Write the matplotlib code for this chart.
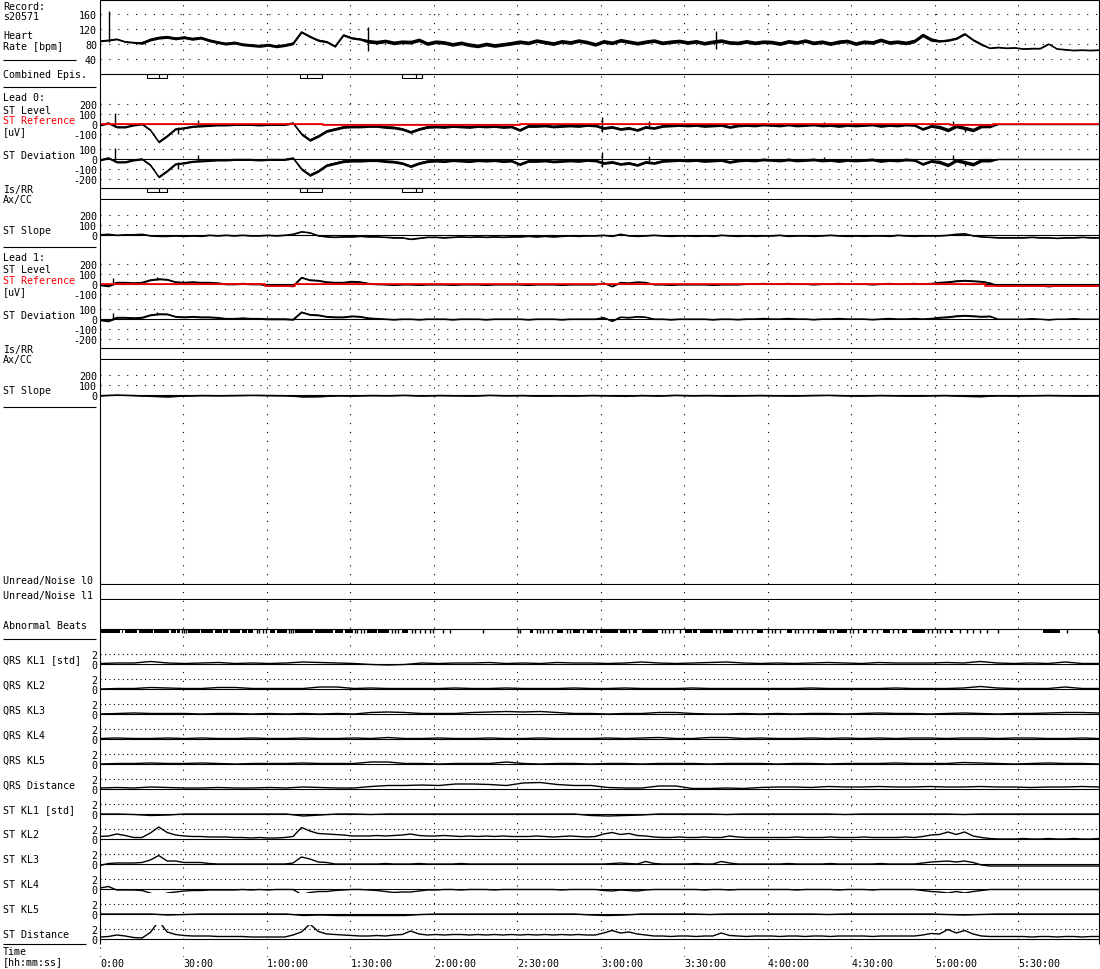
import numpy as np
import matplotlib
matplotlib.use('Agg')
import matplotlib.pyplot as plt
from matplotlib.patches import Rectangle

W, H = 1100, 970
X0, X1 = 100, 1099
T_END = 359.0          # minutes covered by the plot area

# ---------------- data (time in minutes) ----------------
t3 = np.linspace(0, T_END, 120)
t6 = np.linspace(0, T_END, 60)

hr = [88, 90, 93, 86, 84, 83, 92, 97, 99, 95,
      98, 94, 97, 90, 85, 81, 84, 79, 77, 75,
      78, 74, 77, 82, 112, 100, 90, 86, 74, 104,
      96, 93, 87, 85, 88, 83, 86, 85, 91, 81,
      86, 84, 79, 83, 78, 75, 80, 76, 79, 82,
      86, 83, 89, 85, 81, 87, 84, 89, 85, 79,
      87, 83, 90, 86, 82, 86, 89, 83, 86, 88,
      84, 87, 82, 86, 89, 84, 83, 87, 83, 86,
      85, 81, 87, 84, 89, 83, 86, 81, 86, 88,
      81, 86, 84, 91, 84, 86, 83, 88, 104, 92,
      88, 90, 95, 107, 91, 79, 69, 71, 69, 70,
      67, 68, 68, 80, 67, 65, 63, 64, 63, 64]
hr_spk_t = [3.2, 96.3, 221.5]
hr_spk_lo = [86, 62, 68]
hr_spk_hi = [168, 125, 115]
# beat-to-beat scatter around the trend: (from, to, half width)
hr_noise = [(0, 14, 2), (14, 70, 4), (70, 95, 3), (95, 300, 5), (300, 318, 3), (318, 360, 1.5)]

ep_start = [16.9, 71.9, 108.5]
ep_end = [24.1, 79.8, 115.7]
ep_mid = [21.2, 74.4, 113.5]

# lead 0
lvl0 = [-10, 10, -30, -30, -10, 0, -60, -180, -120, -50,
        -40, -25, -20, -15, -10, -10, -5, -5, -5, -10,
        -5, -5, -5, 10, -100, -160, -120, -70, -50, -30,
        -25, -25, -20, -20, -30, -35, -50, -80, -50, -30,
        -25, -30, -20, -25, -30, -20, -25, -20, -30, -25,
        -60, -20, -20, -15, -25, -20, -15, -20, -10, -15,
        -40, -30, -50, -40, -60, -30, -40, -20, -15, -10,
        -15, -10, -20, -15, -10, -30, -15, -10, -15, -5,
        -10, -15, -5, -15, -10, -5, -15, -10, -20, -10,
        -15, -10, -5, -20, -10, -15, -5, -10, -50, -20,
        -30, -60, -20, -40, -60, -20, -20, -5, -5, -5,
        -5, -5, -5, -5, -5, -5, -5, -5, -5, -5]
lvl0_noise = [(0, 70, 10), (70, 300, 14), (300, 320, 18), (320, 360, 0)]
lvl0_spk_t = [5.4, 28.0, 35.2, 180.4, 197.3, 260.0, 306.5, 310.8]
lvl0_spk_lo = [-30, -100, -20, -80, -20, -15, -20, -80]
lvl0_spk_hi = [110, -30, 40, 70, 30, 20, 30, -30]
ref0_t = [0, 80.1, 150.9, 305.4, 320.9]
ref0_v = [0, -8, 0, -8, 0]
sl0 = [0, 5, -5, 0, 0, 5, -10, -15, -15, -10,
       -15, -10, -15, -5, -10, -5, -10, -5, -10, -10,
       -5, -10, -5, 5, 30, 20, -10, -20, -25, -20,
       -20, -15, -20, -20, -25, -30, -30, -45, -35, -25,
       -25, -30, -25, -20, -25, -20, -25, -20, -25, -20,
       -20, -15, -20, -15, -20, -15, -10, -15, -10, -10,
       -5, -15, 5, -10, -15, -10, -5, -10, -15, -10,
       -10, -15, -10, -15, -5, -10, -15, -10, -15, -10,
       -10, -5, -15, -10, -10, -15, -10, -5, -10, -15,
       -10, -15, -10, -10, -15, -5, -10, -15, -10, -10,
       -10, -5, 5, 10, -10, -20, -25, -30, -30, -30,
       -30, -25, -30, -30, -35, -30, -30, -25, -30, -30]
sl0_noise = [(0, 360, 5)]

# lead 1
lvl1 = [-10, -20, 15, 15, 10, 15, 40, 50, 45, 20,
        15, 20, 15, 15, 10, 0, 0, 5, 0, 0,
        -15, -15, -15, -20, 65, 40, 35, 20, 15, 15,
        25, 20, 5, 0, -5, -10, -5, -5, -10, -5,
        -5, -5, -10, -5, -5, -5, -10, -5, -5, -5,
        -5, -10, -5, -5, -5, -10, -5, -5, -5, -5,
        10, -25, 15, 10, 20, 15, -5, -5, -10, -5,
        -5, -5, -5, -10, -5, -5, -5, 0, 0, 5,
        0, 0, 5, 0, 0, -5, 0, 0, 5, 0,
        0, 0, -5, 0, 5, 0, 0, 5, 0, 5,
        15, 20, 30, 35, 30, 25, 10, -20, -20, -20,
        -20, -15, -20, -25, -20, -20, -15, -20, -20, -20]
lvl1_noise = [(0, 100, 8), (100, 300, 5), (300, 320, 8), (320, 360, 3)]
lvl1_spk_t = [4.7, 20.5]
lvl1_spk_lo = [-10, 40]
lvl1_spk_hi = [60, 70]
ref1_t = [0, 23.4, 59.3, 70.1, 227.4, 318.0]
ref1_v = [0, -4, -15, -4, 0, -18]
sl1 = [-10, -3, -8, -15, -20, -12, -8, -10, -8, -6,
       -8, -10, -20, -18, -10, -12, -8, -10, -6, -12,
       -8, -10, -12, -6, -10, -8, -14, -10, -12, -8,
       -10, -15, -8, -12, -6, -10, -8, -12, -10, -8,
       -10, -12, -8, -6, -10, -12, -8, -10, -14, -10,
       -8, -15, -18, -10, -12, -10, -8, -10, -12, -10]
sl1_noise = [(0, 360, 4)]

# abnormal beats: runs of beats and single beats
beat_start = [0, 7.8, 9.0, 14.0, 19.5, 25.5, 27.8, 31.7, 36.3, 41.3, 44.3, 46.7,
              50.9, 53.3, 61.1, 63.5, 70.1, 77.2, 84.4, 88.0, 95.8, 100.0, 108.4,
              154.5, 164.1, 170.1, 174.9,
              179.7, 186.9, 191.7, 194.7, 210.2, 213.2, 215.6, 224.0, 236.0, 246.8,
              257.5, 264.7, 274.3, 281.5, 288.1, 291.7, 305.4, 339.0]
beat_end = [7.2, 8.4, 13.4, 18.9, 24.9, 27.3, 28.7, 35.9, 40.7, 43.7, 46.1, 50.3,
            52.7, 55.1, 62.9, 67.1, 76.6, 83.8, 87.4, 90.8, 99.4, 104.0, 110.8,
            155.7, 166.5, 172.5, 177.2,
            186.3, 189.3, 192.9, 200.7, 212.6, 214.4, 220.4, 227.6, 238.4, 248.6,
            261.1, 268.3, 275.5, 283.9, 289.9, 296.5, 306.6, 345.0]
beat_single = [29.3, 30.2, 30.9, 56.3, 57.2, 58.4, 59.5, 67.8, 68.6, 69.5,
               91.6, 92.5, 93.8, 94.9, 104.8, 106.0, 107.2, 112.0, 113.2, 115.0,
               116.8, 118.6, 119.8, 123.4, 125.7, 137.7, 150.3, 151.1, 156.9, 158.1,
               159.3, 161.1, 162.3, 167.7, 168.9, 173.7, 178.4,
               190.2, 201.9, 203.1, 204.3, 206.0, 208.4, 221.4, 222.8, 228.8, 230.6,
               232.4, 234.2, 240.2, 241.4, 242.6, 244.4, 249.8, 251.0, 252.8, 254.6,
               256.3, 262.3, 263.5, 269.5, 270.7, 272.5, 277.3, 279.1, 285.1, 286.9,
               297.7, 298.9, 300.7, 301.9, 303.7, 309.0, 311.4, 313.8, 316.2, 318.6,
               322.8, 347.4, 358.7]

# Karhunen-Loeve coefficients [std]
qrs_kl1 = [0.1, 0.2, 0.2, 0.5, 0.2, 0.1, 0.2, 0.3, 0.1, 0.2,
           0.1, 0.2, 0.4, 0.3, 0.2, 0.1, -0.1, -0.2, -0.1, 0.2,
           0.1, 0.2, 0.2, 0.3, 0.1, 0.2, 0.1, 0.3, 0.2, 0.2,
           0.1, 0.2, 0.4, 0.2, 0.1, 0.2, 0.3, 0.4, 0.2, 0.1,
           0.2, 0.1, 0.2, 0.3, 0.2, 0.1, 0.3, 0.2, 0.2, 0.2,
           0.3, 0.2, 0.5, 0.2, 0.1, 0.2, 0.1, 0.4, 0.1, 0.1]
qrs_kl2 = [0.0, 0.1, 0.1, 0.3, 0.2, 0.1, 0.1, 0.3, 0.3, 0.1,
           0.1, 0.1, 0.1, 0.4, 0.4, 0.1, 0.2, 0.1, 0.1, 0.1,
           0.1, 0.2, 0.1, 0.1, 0.2, 0.1, 0.1, 0.1, 0.2, 0.1,
           0.1, 0.2, 0.1, 0.1, 0.1, 0.2, 0.1, 0.1, 0.1, 0.1,
           0.1, 0.1, 0.2, 0.1, 0.1, 0.1, 0.1, 0.2, 0.1, 0.1,
           0.1, 0.2, 0.5, 0.2, 0.1, 0.1, 0.1, 0.4, 0.1, 0.1]
qrs_kl3 = [0.0, 0.1, 0.2, 0.1, 0.1, 0.1, 0.0, 0.1, 0.1, 0.0,
           0.1, 0.0, 0.1, 0.0, 0.1, 0.0, 0.3, 0.4, 0.3, 0.1,
           0.1, 0.1, 0.3, 0.4, 0.5, 0.4, 0.5, 0.3, 0.1, 0.1,
           0.0, 0.1, 0.1, 0.3, 0.3, 0.1, 0.0, 0.0, 0.1, 0.0,
           0.1, 0.0, 0.1, 0.1, 0.0, 0.1, 0.2, 0.1, 0.1, 0.0,
           0.1, 0.2, 0.1, 0.0, 0.1, 0.1, 0.2, 0.3, 0.3, 0.2]
qrs_kl4 = [0.1, 0.2, 0.1, 0.1, 0.2, 0.1, 0.2, 0.1, 0.1, 0.2,
           0.1, 0.1, 0.2, 0.1, 0.1, 0.2, 0.1, 0.3, 0.1, 0.1,
           0.2, 0.1, 0.1, 0.2, 0.1, 0.1, 0.2, 0.1, 0.1, 0.1,
           0.2, 0.1, 0.2, 0.3, 0.1, 0.1, 0.3, 0.3, 0.1, 0.2,
           0.1, 0.1, 0.2, 0.1, 0.2, 0.1, 0.2, 0.1, 0.2, 0.2,
           0.1, 0.2, 0.2, 0.1, 0.2, 0.2, 0.1, 0.1, 0.2, 0.1]
qrs_kl5 = [0.0, 0.1, 0.1, 0.2, 0.1, 0.1, 0.2, 0.1, 0.0, 0.1,
           0.1, 0.1, 0.2, 0.1, 0.1, 0.1, 0.4, 0.4, 0.1, 0.1,
           0.0, 0.1, 0.1, 0.1, 0.4, 0.1, 0.0, 0.1, 0.1, 0.0,
           0.1, 0.1, 0.0, 0.1, 0.1, 0.1, 0.0, 0.1, 0.1, 0.1,
           0.0, 0.1, 0.1, 0.0, 0.1, 0.1, 0.1, 0.2, 0.1, 0.1,
           0.1, 0.3, 0.2, 0.1, 0.0, 0.1, 0.2, 0.1, 0.1, 0.0]
qrs_dist = [0.2, 0.3, 0.2, 0.4, 0.3, 0.2, 0.2, 0.3, 0.2, 0.2,
            0.3, 0.2, 0.4, 0.3, 0.2, 0.2, 0.5, 0.7, 0.7, 0.8,
            0.7, 1.0, 1.0, 0.9, 0.7, 1.2, 1.3, 0.9, 0.7, 0.7,
            0.3, 0.2, 0.2, 0.6, 0.6, 0.1, 0.1, 0.2, 0.1, 0.3,
            0.4, 0.4, 0.3, 0.5, 0.4, 0.4, 0.5, 0.4, 0.4, 0.5,
            0.4, 0.4, 0.5, 0.4, 0.4, 0.3, 0.4, 0.4, 0.5, 0.4]
st_kl1 = [0.0, 0.0, -0.1, -0.3, -0.2, 0.0, 0.0, 0.0, 0.0, 0.0,
          0.0, 0.0, -0.4, -0.2, 0.0, 0.0, -0.1, 0.0, 0.0, 0.0,
          0.0, 0.0, 0.0, 0.0, 0.0, 0.0, 0.0, 0.0, 0.0, -0.3,
          -0.4, -0.3, -0.2, 0.0, 0.0, 0.0, 0.0, -0.1, 0.0, 0.0,
          0.0, 0.0, 0.0, 0.0, -0.1, 0.0, 0.0, 0.0, 0.0, 0.0,
          0.0, -0.1, 0.0, 0.0, 0.0, 0.0, 0.0, 0.0, 0.0, 0.0]
st_kl2 = [0.5, 0.6, 1.0, 0.7, 0.3, 0.3, 1.2, 2.4, 1.3, 0.8,
          0.6, 0.5, 0.5, 0.4, 0.4, 0.4, 0.3, 0.3, 0.2, 0.3,
          0.2, 0.2, 0.3, 0.5, 2.3, 1.6, 1.1, 1.0, 0.9, 0.8,
          0.6, 0.6, 0.6, 0.7, 0.6, 0.7, 0.8, 1.0, 0.7, 0.6,
          0.6, 0.7, 0.6, 0.5, 0.6, 0.5, 0.6, 0.5, 0.6, 0.5,
          0.5, 0.5, 0.6, 0.5, 0.4, 0.5, 0.6, 0.5, 0.4, 0.5,
          1.0, 1.3, 0.9, 1.1, 0.7, 0.6, 0.4, 0.3, 0.3, 0.4,
          0.3, 0.3, 0.4, 0.3, 0.3, 0.6, 0.4, 0.3, 0.3, 0.3,
          0.3, 0.3, 0.3, 0.4, 0.3, 0.3, 0.3, 0.4, 0.3, 0.3,
          0.3, 0.4, 0.3, 0.3, 0.3, 0.3, 0.4, 0.3, 0.5, 0.8,
          0.9, 1.4, 0.9, 1.4, 0.6, 0.3, 0.1, 0.0, 0.0, 0.0,
          0.1, 0.0, 0.0, 0.1, 0.0, 0.0, 0.1, 0.0, 0.0, 0.1]
st_kl3 = [-0.3, 0.1, 0.2, 0.2, 0.2, 0.3, 0.8, 1.7, 0.6, 0.6,
          0.3, 0.3, 0.3, 0.1, 0.0, 0.0, 0.0, 0.0, 0.0, 0.0,
          0.0, 0.0, 0.0, 0.2, 1.4, 1.0, 0.4, 0.3, 0.0, 0.0,
          0.0, 0.0, 0.0, 0.0, 0.1, 0.0, 0.0, 0.0, 0.1, 0.0,
          0.0, 0.0, 0.0, 0.1, 0.0, 0.0, 0.0, 0.0, 0.0, 0.0,
          0.0, 0.0, 0.0, 0.0, 0.0, 0.0, 0.0, 0.0, 0.0, 0.0,
          0.0, 0.1, 0.2, 0.1, 0.0, 0.5, 0.1, 0.0, 0.0, 0.0,
          0.0, 0.1, 0.0, 0.0, 0.5, 0.2, 0.0, 0.0, 0.0, 0.0,
          0.0, 0.0, 0.1, 0.0, 0.0, 0.0, 0.0, 0.1, 0.0, 0.0,
          0.0, 0.0, 0.0, 0.1, 0.0, 0.0, 0.0, 0.0, 0.2, 0.4,
          0.5, 0.6, 0.4, 0.6, 0.3, -0.2, -0.4, -0.4, -0.4, -0.4,
          -0.4, -0.4, -0.4, -0.4, -0.4, -0.4, -0.4, -0.4, -0.4, -0.4]
st_kl4 = [0.2, 0.5, -0.2, -0.2, -0.2, -0.3, -0.8, -1.6, -0.8, -0.6,
          -0.4, -0.3, -0.3, -0.2, -0.2, -0.2, -0.2, -0.1, -0.2, -0.1,
          -0.2, -0.1, -0.1, -0.1, -1.1, -0.7, -0.5, -0.5, -0.3, -0.2,
          -0.1, -0.1, -0.2, -0.3, -0.5, -0.7, -0.6, -0.6, -0.4, -0.2,
          -0.2, -0.1, -0.1, -0.2, -0.1, -0.1, -0.1, -0.2, -0.1, -0.1,
          -0.1, -0.1, -0.1, -0.1, -0.1, -0.2, -0.1, -0.1, -0.1, -0.1,
          -0.3, -0.4, -0.2, -0.3, -0.4, -0.2, -0.1, -0.1, -0.1, -0.1,
          -0.1, -0.1, -0.2, -0.1, -0.1, -0.2, -0.1, -0.1, -0.1, -0.1,
          -0.1, -0.1, -0.1, -0.2, -0.1, -0.1, -0.1, -0.1, -0.2, -0.1,
          -0.1, -0.1, -0.2, -0.1, -0.1, -0.1, -0.1, -0.1, -0.3, -0.5,
          -0.6, -0.8, -0.5, -0.8, -0.5, -0.3, -0.1, -0.1, -0.1, -0.1,
          -0.1, -0.1, -0.1, -0.1, -0.1, -0.1, -0.1, -0.1, -0.1, -0.1]
st_kl5 = [0.0, 0.0, 0.0, 0.0, -0.2, -0.1, 0.0, 0.0, 0.0, 0.0,
          0.0, 0.0, -0.3, -0.2, -0.3, -0.3, -0.3, -0.3, -0.3, -0.1,
          0.0, 0.0, 0.0, 0.0, 0.0, 0.0, 0.0, 0.0, 0.0, -0.2,
          -0.3, -0.2, 0.0, 0.0, 0.0, 0.0, -0.1, 0.0, 0.0, 0.0,
          0.0, 0.0, 0.0, -0.1, 0.0, 0.0, 0.0, 0.0, 0.0, 0.0,
          -0.1, -0.2, -0.1, 0.0, 0.0, 0.0, 0.0, 0.0, 0.0, 0.0]
st_dist = [0.4, 0.5, 0.8, 0.6, 0.3, 0.2, 1.3, 3.6, 1.4, 0.9,
           0.7, 0.6, 0.6, 0.6, 0.5, 0.5, 0.5, 0.5, 0.4, 0.4,
           0.4, 0.4, 0.4, 0.8, 1.4, 3.0, 1.5, 1.0, 0.9, 0.8,
           0.7, 0.6, 0.6, 0.7, 0.6, 0.8, 0.9, 1.6, 1.0, 0.8,
           0.9, 0.8, 0.9, 0.9, 0.8, 0.9, 0.8, 0.9, 0.8, 0.9,
           0.8, 0.9, 0.8, 0.9, 0.8, 0.9, 0.8, 0.9, 0.8, 0.8,
           1.2, 1.7, 1.2, 1.4, 1.0, 0.8, 0.6, 0.6, 0.5, 0.6,
           0.6, 0.5, 0.6, 0.6, 1.2, 0.7, 0.6, 0.5, 0.6, 0.6,
           0.6, 0.5, 0.6, 0.6, 0.5, 0.6, 0.6, 0.5, 0.6, 0.6,
           0.6, 0.6, 0.5, 0.6, 0.6, 0.6, 0.6, 0.6, 0.8, 1.1,
           1.0, 1.9, 1.2, 1.7, 1.0, 0.6, 0.5, 0.5, 0.5, 0.5,
           0.5, 0.4, 0.5, 0.5, 0.4, 0.5, 0.5, 0.4, 0.5, 0.5]

kl_rows = [('QRS KL1 [std]', t6, qrs_kl1), ('QRS KL2', t6, qrs_kl2),
           ('QRS KL3', t6, qrs_kl3), ('QRS KL4', t6, qrs_kl4),
           ('QRS KL5', t6, qrs_kl5), ('QRS Distance', t6, qrs_dist),
           ('ST KL1 [std]', t6, st_kl1), ('ST KL2', t3, st_kl2),
           ('ST KL3', t3, st_kl3), ('ST KL4', t3, st_kl4),
           ('ST KL5', t6, st_kl5), ('ST Distance', t3, st_dist)]

time_ticks = [0, 30, 60, 90, 120, 150, 180, 210, 240, 270, 300, 330]
time_labels = ['0:00', '30:00', '1:00:00', '1:30:00', '2:00:00', '2:30:00',
               '3:00:00', '3:30:00', '4:00:00', '4:30:00', '5:00:00', '5:30:00']

# ---------------- drawing ----------------
plt.rcParams['font.family'] = 'DejaVu Sans Mono'
plt.rcParams['font.size'] = 7.2
LW = 0.8
TLW = 1.0
DOT = (0, (1, 7))
DOT_FINE = (0, (1, 3))
RED = '#ff0000'

fig = plt.figure(figsize=(W / 100, H / 100), dpi=100)


def bare(ax):
    ax.patch.set_visible(False)
    for s in ax.spines.values():
        s.set_visible(False)


def panel(zero, ppu, above, below, ticks=(), dotted=(), dot=DOT, zero_line=True):
    # zero: pixel row of value 0, ppu: pixels per unit
    top, bot = zero - above, zero + below
    ax = fig.add_axes([X0 / W, 1 - bot / H, (X1 - X0) / W, (bot - top) / H])
    ax.set_xlim(0, T_END)
    ax.set_ylim(-below / ppu, above / ppu)
    bare(ax)
    ax.set_xticks([])
    ax.set_yticks(list(ticks))
    ax.set_yticklabels([str(v) for v in ticks])
    ax.tick_params(axis='y', length=0, pad=2.2)
    for v in dotted:
        ax.axhline(v, color='k', lw=LW, ls=dot)
    if zero_line:
        ax.axhline(0, color='k', lw=LW)
    return ax


def ref_at(t, rt, rv):
    idx = np.searchsorted(rt, t, side='right') - 1
    return np.asarray(rv, float)[idx]


def noise_at(t, segs):
    out = np.zeros(len(t))
    for a, b, w in segs:
        out[(t >= a) & (t < b)] = w
    return out


def trace(ax, t, v, segs=None):
    v = np.asarray(v, float)
    if segs:
        w = noise_at(t, segs)
        ax.fill_between(t, v - w, v + w, color='k', lw=0)
    ax.plot(t, v, color='k', lw=TLW)


# vertical time grid
gax = fig.add_axes([X0 / W, 1 - 958 / H, (X1 - X0) / W, 958 / H])
gax.set_xlim(0, T_END)
gax.set_ylim(0, 1)
bare(gax)
gax.set_yticks([])
for tt in time_ticks:
    gax.axvline(tt, color='k', lw=LW, ls=DOT)
gax.set_xticks(time_ticks)
gax.set_xticklabels(time_labels, ha='left')
gax.tick_params(axis='x', length=0, pad=0.5)

# heart rate
ax = panel(75, 0.375, 75, 3, ticks=(40, 80, 120, 160), dotted=(40, 80, 120, 160))
trace(ax, t3, hr, hr_noise)
ax.vlines(hr_spk_t, hr_spk_lo, hr_spk_hi, color='k', lw=TLW)

# combined episodes
ax = panel(75, 1, 1, 5, zero_line=False)
for s, e, m in zip(ep_start, ep_end, ep_mid):
    ax.add_patch(Rectangle((s, -3.5), e - s, 3.5, fill=False, ec='k', lw=LW))
    ax.vlines(m, -3.5, 0, color='k', lw=LW)


def lead(off, lvl, noise, spk_t, spk_lo, spk_hi, rt, rv, slope, t_slope, sl_noise, episodes):
    # ST level with reference
    ax = panel(125 + off, 0.1, 25, 22, ticks=(-100, 0, 100, 200), dotted=(-100, 100, 200))
    trace(ax, t3, lvl, noise)
    ax.vlines(spk_t, spk_lo, spk_hi, color='k', lw=TLW)
    ax.step(list(rt) + [T_END], list(rv) + [rv[-1]], where='post', color=RED, lw=1.25, zorder=10)
    # ST deviation
    ax = panel(160 + off, 0.1, 14, 24, ticks=(-200, -100, 0, 100), dotted=(-200, -100, 100))
    dev = np.asarray(lvl, float) - ref_at(t3, rt, rv)
    trace(ax, t3, dev, noise)
    sp = np.asarray(spk_t)
    ax.vlines(sp, np.asarray(spk_lo) - ref_at(sp, rt, rv),
              np.asarray(spk_hi) - ref_at(sp, rt, rv), color='k', lw=TLW)
    # Is/RR line and episodes
    ax = panel(189 + off, 1, 1, 5)
    if episodes:
        for s, e, m in zip(ep_start, ep_end, ep_mid):
            ax.add_patch(Rectangle((s, -3.5), e - s, 3.5, fill=False, ec='k', lw=LW))
            ax.vlines(m, -3.5, 0, color='k', lw=LW)
    panel(200 + off, 1, 1, 1)
    # ST slope
    ax = panel(235.7 + off, 0.1, 25, 8, ticks=(0, 100, 200), dotted=(100, 200))
    trace(ax, t_slope, slope, sl_noise)


lead(0, lvl0, lvl0_noise, lvl0_spk_t, lvl0_spk_lo, lvl0_spk_hi, ref0_t, ref0_v,
     sl0, t3, sl0_noise, True)
lead(160, lvl1, lvl1_noise, lvl1_spk_t, lvl1_spk_lo, lvl1_spk_hi, ref1_t, ref1_v,
     sl1, t6, sl1_noise, False)

# unread / noise
panel(585, 1, 1, 1)
panel(600, 1, 1, 1)

# abnormal beats
ax = panel(630, 1, 1, 4.5)
ax.broken_barh([(s, e - s) for s, e in zip(beat_start, beat_end)], (-4.2, 4.2),
               facecolors='k', edgecolors='none')
ax.vlines(beat_single, -4.2, 0, color='k', lw=1.0)

# KL rows
for i, (name, tt, vals) in enumerate(kl_rows):
    zero = 665 + 25 * i
    ax = panel(zero, 5, 14, 4, ticks=(0, 2), dotted=(2,), dot=DOT_FINE)
    trace(ax, tt, vals)

# ---------------- layout lines and labels (pixel space) ----------------
lax = fig.add_axes([0, 0, 1, 1])
lax.set_xlim(0, W)
lax.set_ylim(H, 0)
lax.axis('off')

lax.hlines(0.5, X0, X1, color='k', lw=LW)
lax.vlines([X0, X1], 0, 945, color='k', lw=LW)
for y, x_end in [(60.5, 76), (88, 96), (248, 96), (408, 96), (640, 96), (945, 86)]:
    lax.hlines(y, 3, x_end, color='k', lw=LW)


def label(y, s, color='k'):
    lax.text(3, y, s, ha='left', va='center', color=color)


label(6.5, 'Record:')
label(16.5, 's20571')
label(36, 'Heart')
label(47.5, 'Rate [bpm]')
label(75.5, 'Combined Epis.')
for off, name in [(0, 'Lead 0:'), (160, 'Lead 1:')]:
    label(98 + off, name)
    label(110.5 + off, 'ST Level')
    label(121.5 + off, 'ST Reference', RED)
    label(132.5 + off, '[uV]')
    label(156 + off, 'ST Deviation')
    label(190 + off, 'Is/RR')
    label(200.5 + off, 'Ax/CC')
    label(231 + off, 'ST Slope')
label(581, 'Unread/Noise l0')
label(596, 'Unread/Noise l1')
label(626, 'Abnormal Beats')
for i, (name, tt, vals) in enumerate(kl_rows):
    label(665 + 25 * i - 4.5, name)
label(952.5, 'Time')
label(962.5, '[hh:mm:ss]')

fig.savefig('out.png', dpi=100)
